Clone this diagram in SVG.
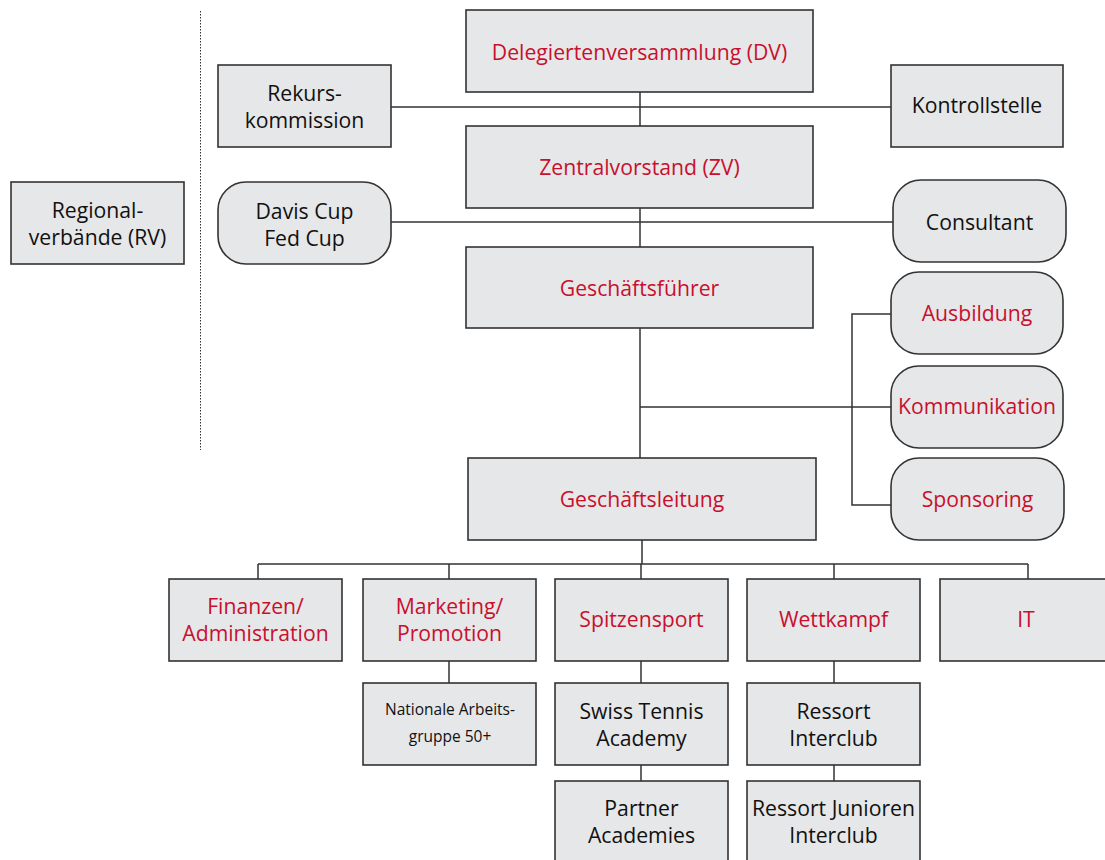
<svg xmlns="http://www.w3.org/2000/svg" width="1105" height="860" viewBox="0 0 1105 860">
<style>
.b{fill:#e6e7e8;stroke:#333;stroke-width:1.6}
.t{font-family:"Open Sans","Noto Sans",sans-serif;font-size:21.2px;text-anchor:middle;fill:#111}
.r{fill:#c8102e}
.s{font-size:15.5px}
.c{fill:none;stroke:#333;stroke-width:1.5}
</style>
<rect width="1105" height="860" fill="#fff"/>
<g id="connectors">
<line x1="200.5" y1="11" x2="200.5" y2="450" stroke="#333" stroke-width="1" stroke-dasharray="1.5,1.5"/>
<path class="c" d="M640,92V126M391,107H891M640,208V247M391,222H893M640,328V458M640,407H891M891,314H852V505H891M642,540V564M258,564H1028M258,564V579M449,564V579M641,564V579M834,564V579M1028,564V579M449,661V683M641,661V683M641,765V781M834,661V683M834,765V781"/>
</g>
<g id="regional"><rect class="b" x="11" y="182" width="173" height="82"/><text class="t" x="97.5" y="218">Regional-</text><text class="t" x="97.5" y="245">verbände (RV)</text></g>
<g id="rekurs"><rect class="b" x="218" y="65" width="173" height="82"/><text class="t" x="304.5" y="101">Rekurs-</text><text class="t" x="304.5" y="128">kommission</text></g>
<g id="daviscup"><rect class="b" x="218" y="182" width="173" height="82" rx="28"/><text class="t" x="304.5" y="219">Davis Cup</text><text class="t" x="304.5" y="246">Fed Cup</text></g>
<g id="dv"><rect class="b" x="466" y="10" width="347" height="82"/><text class="t r" x="639.5" y="60">Delegiertenversammlung (DV)</text></g>
<g id="kontrollstelle"><rect class="b" x="891" y="65" width="172" height="82"/><text class="t" x="977" y="113">Kontrollstelle</text></g>
<g id="zv"><rect class="b" x="466" y="126" width="347" height="82"/><text class="t r" x="639.5" y="175">Zentralvorstand (ZV)</text></g>
<g id="consultant"><rect class="b" x="893" y="180" width="173" height="82" rx="28"/><text class="t" x="979.5" y="230">Consultant</text></g>
<g id="gf"><rect class="b" x="466" y="247" width="347" height="81"/><text class="t r" x="639.5" y="296">Geschäftsführer</text></g>
<g id="ausbildung"><rect class="b" x="891" y="272" width="172" height="82" rx="28"/><text class="t r" x="977" y="321">Ausbildung</text></g>
<g id="kommunikation"><rect class="b" x="891" y="366" width="172" height="82" rx="28"/><text class="t r" x="977" y="414">Kommunikation</text></g>
<g id="sponsoring"><rect class="b" x="891" y="458" width="173" height="82" rx="28"/><text class="t r" x="977.5" y="507">Sponsoring</text></g>
<g id="gl"><rect class="b" x="468" y="458" width="348" height="82"/><text class="t r" x="642" y="507">Geschäftsleitung</text></g>
<g id="finanzen"><rect class="b" x="169" y="579" width="173" height="82"/><text class="t r" x="255.5" y="614">Finanzen/</text><text class="t r" x="255.5" y="641">Administration</text></g>
<g id="marketing"><rect class="b" x="363" y="579" width="173" height="82"/><text class="t r" x="449.5" y="614">Marketing/</text><text class="t r" x="449.5" y="641">Promotion</text></g>
<g id="spitzensport"><rect class="b" x="555" y="579" width="173" height="82"/><text class="t r" x="641.5" y="627">Spitzensport</text></g>
<g id="wettkampf"><rect class="b" x="747" y="579" width="173" height="82"/><text class="t r" x="833.5" y="627">Wettkampf</text></g>
<g id="it"><rect class="b" x="940" y="579" width="176" height="82"/><text class="t r" x="1026" y="627">IT</text></g>
<g id="nationale"><rect class="b" x="363" y="683" width="173" height="82"/><text class="t s" x="450" y="715">Nationale Arbeits-</text><text class="t s" x="450" y="742">gruppe 50+</text></g>
<g id="swisstennis"><rect class="b" x="555" y="683" width="173" height="82"/><text class="t" x="641.5" y="719">Swiss Tennis</text><text class="t" x="641.5" y="746">Academy</text></g>
<g id="ressortinterclub"><rect class="b" x="747" y="683" width="173" height="82"/><text class="t" x="833.5" y="719">Ressort</text><text class="t" x="833.5" y="746">Interclub</text></g>
<g id="partner"><rect class="b" x="555" y="781" width="173" height="90"/><text class="t" x="641.5" y="816">Partner</text><text class="t" x="641.5" y="843">Academies</text></g>
<g id="ressortjunioren"><rect class="b" x="747" y="781" width="173" height="90"/><text class="t" x="833.5" y="816">Ressort Junioren</text><text class="t" x="833.5" y="843">Interclub</text></g>
</svg>
